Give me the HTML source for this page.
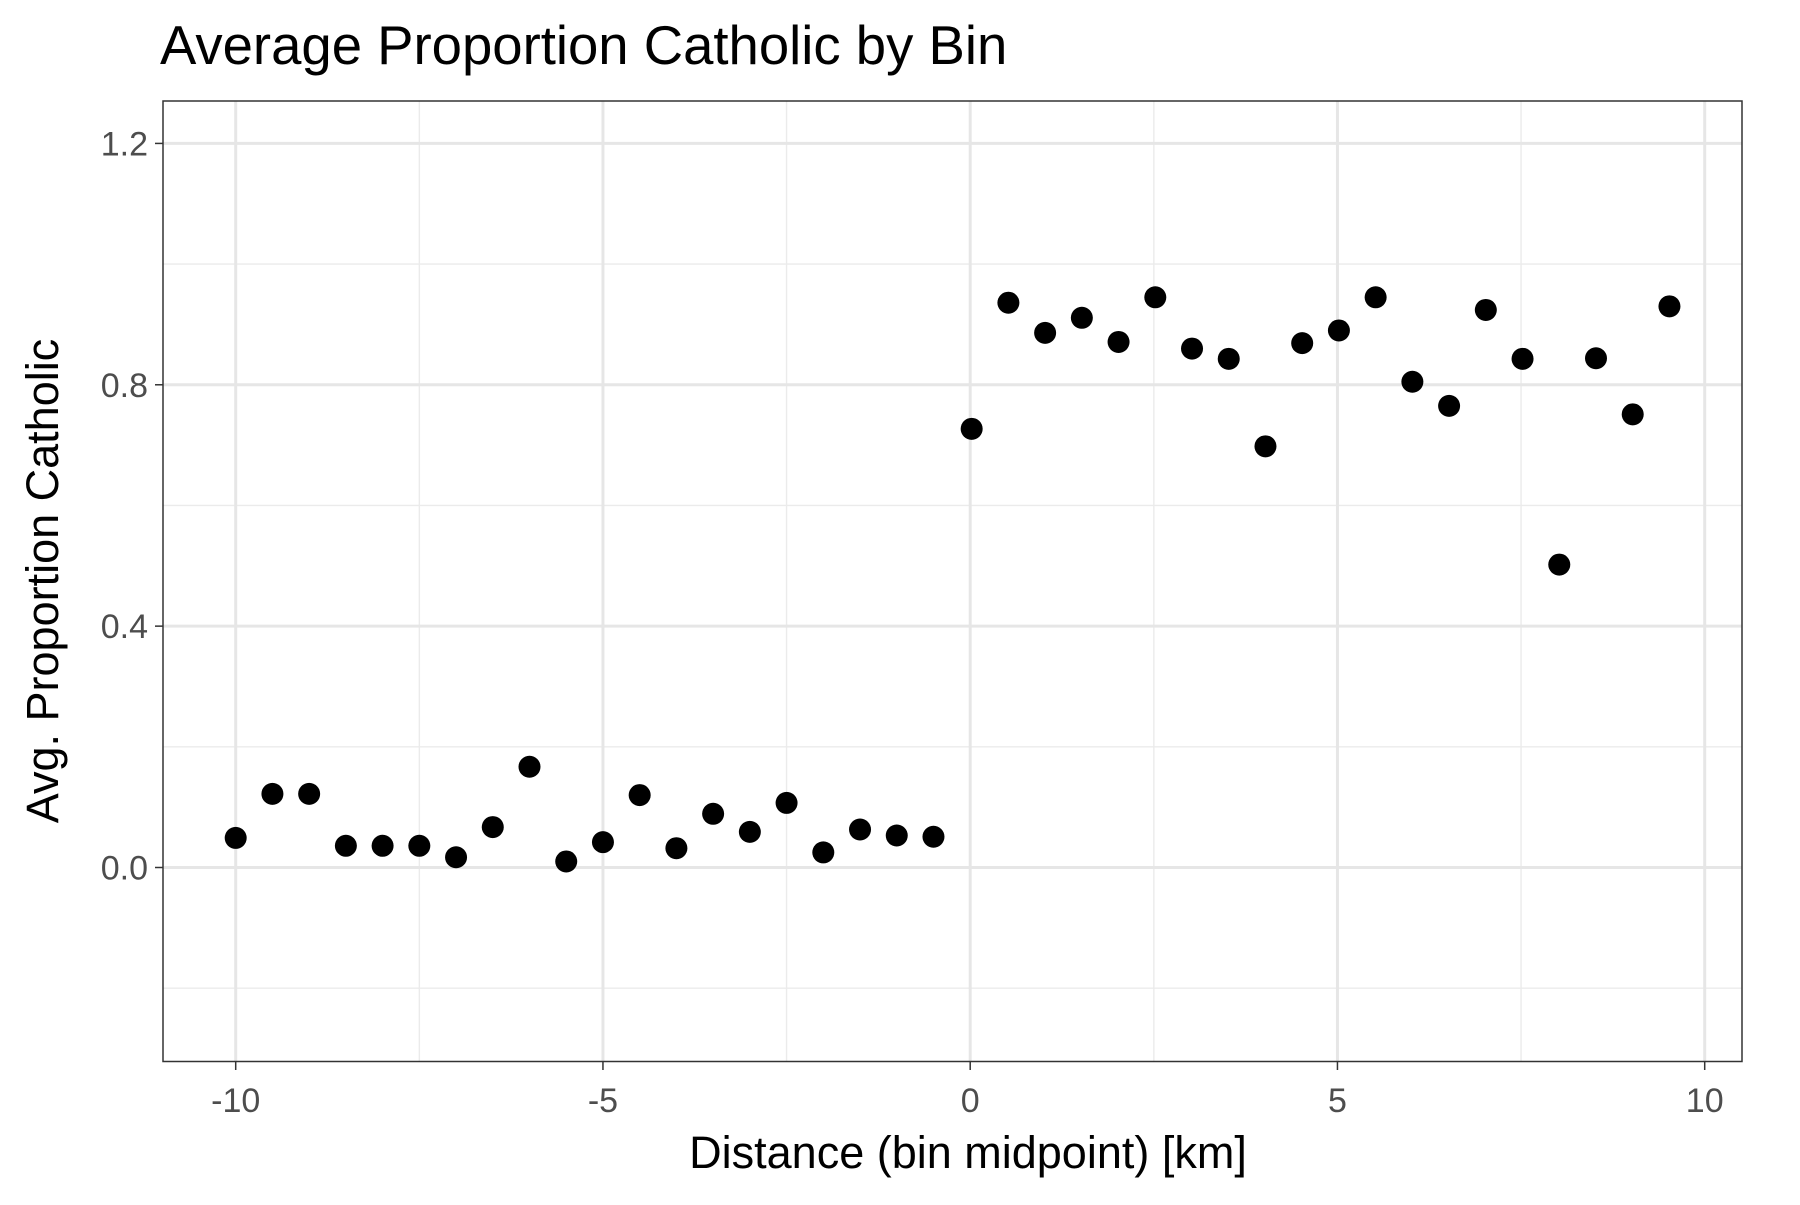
<!DOCTYPE html>
<html><head><meta charset="utf-8"><style>
body{margin:0;background:#fff;}
svg text{font-family:"Liberation Sans",Arial,sans-serif;}
</style></head><body>
<svg id="chart" width="1800" height="1200" xmlns="http://www.w3.org/2000/svg">
<rect width="1800" height="1200" fill="#fff"/>
<text x="160" y="64" font-size="54.5" fill="#000">Average Proportion Catholic by Bin</text>
<g id="grid"></g>
<g id="points"></g>
<rect x="163" y="101" width="1579" height="960.5" fill="none" stroke="#333" stroke-width="1.5"/>
<g id="axes"></g>
<text x="968" y="1168" font-size="45" text-anchor="middle" fill="#000">Distance (bin midpoint) [km]</text>
<text transform="translate(58,581) rotate(-90)" font-size="45" text-anchor="middle" fill="#000">Avg. Proportion Catholic</text>
</svg>
<script>
const xs = [-10,-9.5,-9,-8.5,-8,-7.5,-7,-6.5,-6,-5.5,-5,-4.5,-4,-3.5,-3,-2.5,-2,-1.5,-1,-0.5,0.02,0.52,1.02,1.52,2.02,2.52,3.02,3.52,4.02,4.52,5.02,5.52,6.02,6.52,7.02,7.52,8.02,8.52,9.02,9.52];
const ys = [0.049,0.122,0.122,0.036,0.036,0.036,0.017,0.067,0.167,0.010,0.042,0.120,0.032,0.089,0.059,0.107,0.025,0.063,0.053,0.051,0.727,0.936,0.886,0.911,0.871,0.945,0.860,0.843,0.698,0.869,0.890,0.945,0.805,0.765,0.924,0.843,0.502,0.844,0.751,0.930];
const xTicks = [-10,-5,0,5,10];
const xTickLabels = ["-10","-5","0","5","10"];
const yTicks = [0,0.4,0.8,1.2];
const yTickLabels = ["0.0","0.4","0.8","1.2"];
const xMinor = [-7.5,-2.5,2.5,7.5];
const yMinor = [-0.2,0.2,0.6,1.0];
const X = v => 235.7 + (v + 10) * 73.45;
const Y = v => 867.5 - v * 603.4;
const NS = "http://www.w3.org/2000/svg";
const grid = document.getElementById('grid'), pts = document.getElementById('points'), axes = document.getElementById('axes');
function line(parent,x1,y1,x2,y2,stroke,w){const l=document.createElementNS(NS,'line');l.setAttribute('x1',x1);l.setAttribute('y1',y1);l.setAttribute('x2',x2);l.setAttribute('y2',y2);l.setAttribute('stroke',stroke);l.setAttribute('stroke-width',w);parent.appendChild(l);return l;}
xMinor.forEach(v=>{const l=line(grid,X(v),101,X(v),1061.5,'#ebebeb',1.4);

});
yMinor.forEach(v=>{const l=line(grid,163,Y(v),1742,Y(v),'#ebebeb',1.4);

});
xTicks.forEach((v,i)=>{const l=line(grid,X(v),101,X(v),1061.5,'#e6e6e6',3);


const t=line(axes,X(v),1061.5,X(v),1070,'#333',1.5);


const tx=document.createElementNS(NS,'text');tx.setAttribute('x',X(v));tx.setAttribute('y',1112);tx.setAttribute('font-size','34');tx.setAttribute('text-anchor','middle');tx.setAttribute('fill','#4d4d4d');tx.textContent=xTickLabels[i];


axes.appendChild(tx);});
yTicks.forEach((v,i)=>{const l=line(grid,163,Y(v),1742,Y(v),'#e6e6e6',3);


const t=line(axes,155,Y(v),163,Y(v),'#333',1.5);


const tx=document.createElementNS(NS,'text');tx.setAttribute('x',148);tx.setAttribute('y',Y(v)+12);tx.setAttribute('font-size','34');tx.setAttribute('text-anchor','end');tx.setAttribute('fill','#4d4d4d');tx.textContent=yTickLabels[i];


axes.appendChild(tx);});
xs.forEach((x,i)=>{const c=document.createElementNS(NS,'circle');c.setAttribute('cx',X(x));c.setAttribute('cy',Y(ys[i]));c.setAttribute('r',11);c.setAttribute('fill','#000');


pts.appendChild(c);});
</script>
</body></html>
